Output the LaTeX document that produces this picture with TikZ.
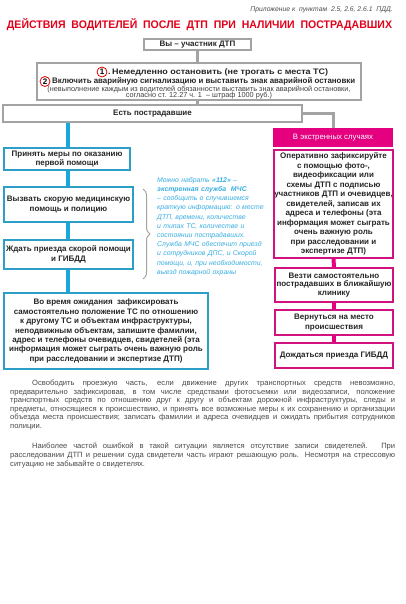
\documentclass[tikz,border=0pt]{standalone}
\usepackage{fontspec}
\setmainfont{Liberation Sans}
\usetikzlibrary{decorations.pathreplacing}
\definecolor{gframe}{HTML}{A3A3A3}
\definecolor{bline}{HTML}{1AA7E0}
\definecolor{bframe}{HTML}{2C9FC8}
\definecolor{pk}{HTML}{E4007F}
\definecolor{pkframe}{HTML}{D2137F}
\definecolor{btext}{HTML}{3AAEE2}
\definecolor{ttl}{HTML}{E2001A}
\definecolor{ptext}{HTML}{4A4A4A}
\tikzset{
  gbox/.style={draw=gframe, line width=1.8pt, fill=white, inner sep=0pt, align=center},
  bbox/.style={draw=bframe, line width=1.3pt, fill=white, inner sep=0pt, align=center,
     font=\bfseries\fontsize{8}{9.4}\selectfont, text=black!85},
  pbox/.style={draw=pkframe, line width=1.3pt, fill=white, inner sep=0pt, align=center,
     font=\bfseries\fontsize{8}{9.5}\selectfont, text=black!85},
  gconn/.style={draw=gframe, line width=3pt},
  bconn/.style={draw=bline, line width=4pt},
  pconn/.style={draw=pk, line width=4pt},
  boldtxt/.style={font=\bfseries\fontsize{8}{9.5}\selectfont, text=black!85, inner sep=0pt},
  smalltxt/.style={font=\fontsize{7.3}{7.3}\selectfont, text=black!75, inner sep=0pt},
  numcirc/.style={circle, draw=red!85!black, line width=0.8pt, minimum size=10pt, inner sep=0pt}
}
\begin{document}
\begin{tikzpicture}[x=1pt,y=-1pt]
\useasboundingbox (0,0) rectangle (405,604);
\fill[white] (0,0) rectangle (405,604);

% header
\node[anchor=east, inner sep=0pt, font=\itshape\fontsize{6.8}{7}\selectfont, text=black!70] (app) at (393,10)
  {Приложение к\ \ пунктам\ \ 2.5, 2.6, 2.6.1\ \ ПДД.};
\node[inner sep=0pt, font=\bfseries\fontsize{11}{13}\selectfont, text=ttl] (title) at (199.5,25)
  {\resizebox{385pt}{\height}{ДЕЙСТВИЯ\ \ ВОДИТЕЛЕЙ\ \ ПОСЛЕ\ \ ДТП\ \ ПРИ\ \ НАЛИЧИИ\ \ ПОСТРАДАВШИХ}};

% gray boxes
\node[gbox, minimum width=107pt, minimum height=11pt, font=\bfseries\fontsize{8}{9.5}\selectfont, text=black!85] (b1) at (197.5,44.5) {Вы – участник ДТП};
\node[gbox, minimum width=324pt, minimum height=37pt] (b2) at (199,81.5) {};
\node[numcirc] (c1) at (102,72) {\bfseries\fontsize{8}{9}\selectfont 1};
\node[boldtxt, anchor=west] (l1) at (108,72) {\resizebox{220pt}{\height}{.\,Немедленно остановить (не трогать с места ТС)}};
\node[numcirc] (c2) at (45,81.5) {\bfseries\fontsize{8}{9}\selectfont 2};
\node[boldtxt, anchor=west] (l2) at (52,81.5) {\resizebox{303pt}{\height}{Включить аварийную сигнализацию и выставить знак аварийной остановки}};
\node[smalltxt] (l3) at (199,89.5) {(невыполнение каждым из водителей обязанности выставить знак аварийной остановки,};
\node[smalltxt] (l4) at (199,96) {согласно ст. 12.27 ч. 1\ \ – штраф 1000 руб.)};
\node[gbox, minimum width=299pt, minimum height=17pt, font=\bfseries\fontsize{8}{9.5}\selectfont, text=black!85] (b3) at (152.5,113.5) {Есть пострадавшие};

\draw[gconn] (b1.south) -- (b1.south |- b2.north);
\draw[gconn] (b1.south |- b2.south) -- (b1.south |- b3.north);

% pink column
\node[fill=pk, minimum width=120pt, minimum height=19pt, inner sep=0pt, text=white, font=\fontsize{7.8}{9}\selectfont] (ph) at (333,137.5) {В экстренных случаях};
\draw[gconn] (b3.east) -| (ph.north);
\node[pbox, minimum width=119pt, minimum height=108pt] (p1) at (333.5,204)
 {Оперативно зафиксируйте\\с помощью фото-,\\видеофиксации или\\схемы ДТП с подписью\\участников ДТП и очевидцев,\\свидетелей, записав их\\адреса и телефоны (эта\\информация может сыграть\\очень важную роль\\при расследовании и\\экспертизе ДТП)};
\node[pbox, minimum width=118pt, minimum height=34pt, font=\bfseries\fontsize{8}{8.6}\selectfont] (p2) at (334,285) {Везти самостоятельно\\пострадавших в ближайшую\\клинику};
\node[pbox, minimum width=118pt, minimum height=25pt] (p3) at (334,322.5) {Вернуться на место\\происшествия};
\node[pbox, minimum width=118pt, minimum height=25pt] (p4) at (334,355.5) {Дождаться приезда ГИБДД};
\draw[pconn] (p1.south) -- (p2.north);
\draw[pconn] (p2.south) -- (p3.north);
\draw[pconn] (p3.south) -- (p4.north);

% blue column
\node[bbox, minimum width=126pt, minimum height=22pt] (q1) at (67,159) {Принять меры по оказанию\\первой помощи};
\node[bbox, minimum width=129pt, minimum height=35pt] (q2) at (68.5,204.5) {Вызвать скорую медицинскую\\помощь и полицию};
\node[bbox, minimum width=129pt, minimum height=29pt] (q3) at (68.5,254.5) {Ждать приезда скорой помощи\\и ГИБДД};
\node[bbox, minimum width=204pt, minimum height=76pt] (q4) at (106,331)
 {Во время ожидания\ \ зафиксировать\\самостоятельно положение ТС по отношению\\к другому ТС и объектам инфраструктуры,\\неподвижным объектам, запишите фамилии,\\адрес и телефоны очевидцев, свидетелей (эта\\информация может сыграть очень важную роль\\при расследовании и экспертизе ДТП)};
\coordinate (bx) at (68,0);
\draw[bconn] (b3.south -| bx) -- (q1.north -| bx);
\draw[bconn] (q1.south -| bx) -- (q2.north -| bx);
\draw[bconn] (q2.south -| bx) -- (q3.north -| bx);
\draw[bconn] (q3.south -| bx) -- (q4.north -| bx);

% brace and note
\draw[gframe, line width=1pt, decorate, decoration={brace, amplitude=7pt}] (143,189) -- (143,279);
\node[anchor=north west, inner sep=0pt, text width=115pt, align=left, text=btext,
      font=\itshape\fontsize{6.9}{9.2}\selectfont] (note) at (157,177)
 {Можно набрать \textbf{«112»} –\\\textbf{экстренная служба\ \ МЧС}\\– сообщить о случившемся\\краткую информацию: о месте\\ДТП, времени, количестве\\и типах ТС, количестве и\\состоянии пострадавших.\\Служба МЧС обеспечит приезд\\и сотрудников ДПС, и Скорой\\помощи, и, при необходимости,\\выезд пожарной охраны};

% paragraphs
\node[anchor=north west, inner sep=0pt, text width=385pt, align=justify, text=ptext,
      font=\fontsize{7.6}{8.5}\selectfont] (para1) at (10,380)
 {\hspace*{22pt}Освободить проезжую часть, если движение других транспортных средств невозможно,\linebreak
 предварительно зафиксировав, в том числе средствами фотосъемки или видеозаписи, положение\linebreak
 транспортных средств по отношению друг к другу и объектам дорожной инфраструктуры, следы и\linebreak
 предметы, относящиеся к происшествию, и принять все возможные меры к их сохранению и организации\linebreak
 объезда места происшествия; записать фамилии и адреса очевидцев и ожидать прибытия сотрудников\linebreak
 полиции.};
\node[anchor=north west, inner sep=0pt, text width=385pt, align=justify, text=ptext,
      font=\fontsize{7.6}{9}\selectfont] (para2) at (10,443)
 {\hspace*{22pt}Наиболее частой ошибкой в такой ситуации является отсутствие записи свидетелей. При\linebreak
 расследовании ДТП и решении суда свидетели часть играют решающую роль. Несмотря на стрессовую\linebreak
 ситуацию не забывайте о свидетелях.};
\end{tikzpicture}
\end{document}
